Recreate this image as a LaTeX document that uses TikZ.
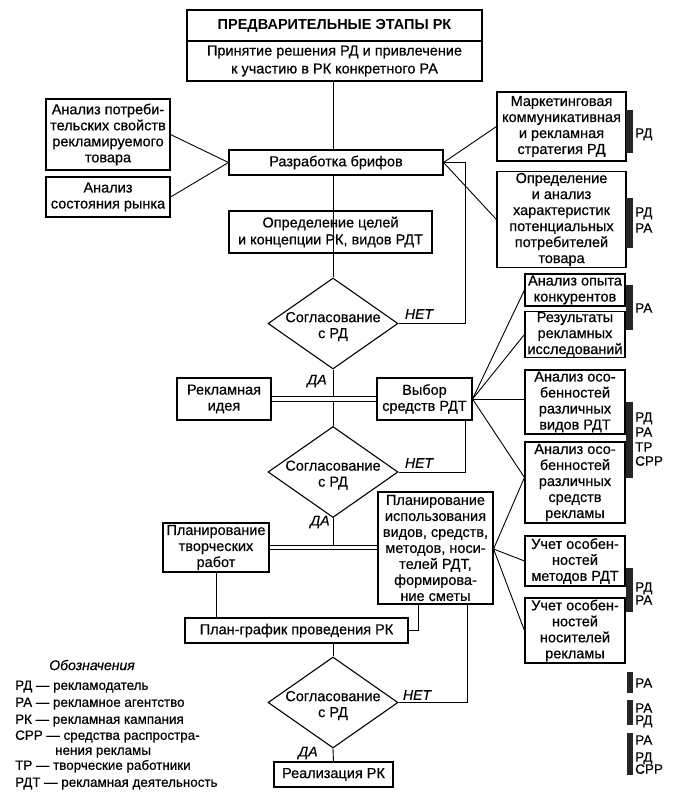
\documentclass[tikz,border=0pt]{standalone}
\usepackage{fontspec}
\setmainfont{Liberation Sans}[UprightFeatures={FakeBold=0.5},ItalicFeatures={FakeBold=0.5}]
\usetikzlibrary{shapes.geometric}
\newcommand\bxf{\fontsize{14.5}{16}\selectfont}
\newcommand\lgf{\fontsize{13.4}{16}\selectfont}
\tikzset{
 box/.style={draw, line width=1.1pt, align=center, inner sep=1pt, font=\bxf},
 dia/.style={draw, line width=1.1pt, diamond, shape aspect=1.43, minimum width=130pt, minimum height=91pt, inner sep=0pt},
 conn/.style={line width=0.9pt},
 dbl/.style={line width=0.9pt, double, double distance=3.6pt},
 yn/.style={font=\fontsize{14}{16}\selectfont\itshape, inner sep=0pt},
 bar/.style={fill=black!85},
 tag/.style={font=\fontsize{13.5}{14}\selectfont, anchor=base west, inner sep=0pt},
 lg/.style={font=\lgf, anchor=base west, inner sep=0pt},
}
\begin{document}
\begin{tikzpicture}[x=1pt,y=-1pt]
\useasboundingbox (0,0) rectangle (679,798);
% boxes
\node[box, minimum width=295pt, minimum height=31pt, font=\bxf\bfseries] (t) at (334.5,25.5) {ПРЕДВАРИТЕЛЬНЫЕ ЭТАПЫ РК};
\node[box, minimum width=295pt, minimum height=40pt, font=\fontsize{14.5}{18}\selectfont] (b0) at (334.5,61) {Принятие решения РД и привлечение\\к участию в РК конкретного РА};
\node[box, minimum width=124pt, minimum height=71pt] (an1) at (108,134.5) {Анализ потреби-\\тельских свойств\\рекламируемого\\товара};
\node[box, minimum width=124pt, minimum height=40pt] (an2) at (108,197) {Анализ\\состояния рынка};
\node[box, minimum width=214pt, minimum height=25pt] (razr) at (336,162.5) {Разработка брифов};
\node[box, minimum width=129pt, minimum height=69pt] (mk) at (561.5,126.5) {Маркетинговая\\коммуникативная\\и рекламная\\стратегия РД};
\node[box, minimum width=129pt, minimum height=95pt] (opr) at (561.5,219.5) {Определение\\и анализ\\характеристик\\потенциальных\\потребителей\\товара};
\node[box, minimum width=203pt, minimum height=42pt, font=\fontsize{14.5}{17}\selectfont] (oc) at (330.5,232) {Определение целей\\и концепции РК, видов РДТ};
\node[box, minimum width=94pt, minimum height=42pt] (ri) at (224,399) {Рекламная\\идея};
\node[box, minimum width=95pt, minimum height=42pt] (vb) at (424.5,399) {Выбор\\средств РДТ};
\node[box, minimum width=106pt, minimum height=49pt] (pt) at (216,547.5) {Планирование\\творческих\\работ};
\node[box, minimum width=115pt, minimum height=112pt] (pi) at (435.5,548) {Планирование\\использования\\видов, средств,\\методов, носи-\\телей РДТ,\\формирова-\\ние сметы};
\node[box, minimum width=223pt, minimum height=25pt] (pg) at (296.5,630.5) {План-график проведения РК};
\node[box, minimum width=119pt, minimum height=25pt] (real) at (333.5,774.5) {Реализация РК};
\node[box, minimum width=100pt, minimum height=32pt] (ao) at (575,290) {Анализ опыта\\конкурентов};
\node[box, minimum width=100pt, minimum height=45pt] (rez) at (575,334.5) {Результаты\\рекламных\\исследований};
\node[box, minimum width=100pt, minimum height=64pt] (av) at (575,402) {Анализ осо-\\бенностей\\различных\\видов РДТ};
\node[box, minimum width=100pt, minimum height=81pt] (as) at (575,482.5) {Анализ осо-\\бенностей\\различных\\средств\\рекламы};
\node[box, minimum width=100pt, minimum height=50pt] (um) at (575,561) {Учет особен-\\ностей\\методов РДТ};
\node[box, minimum width=100pt, minimum height=65pt] (un) at (575,630.5) {Учет особен-\\ностей\\носителей\\рекламы};
% diamonds
\node[dia] (d1) at (333,323.5) {};
\node[dia] (d2) at (333,472) {};
\node[dia] (d3) at (333,702.5) {};
\foreach \d in {d1,d2,d3}{\node[font=\bxf, align=center] at ([yshift=-3pt]\d.center) {Согласование\\с РД};}
% connectors
\draw[conn] (b0.south -| d1.north) -- (razr.north -| d1.north);
\draw[conn] (razr.south -| d1.north) -- (oc.south -| d1.north);
\draw[conn] (oc.south -| d1.north) -- (d1.north);
\draw[conn] (an1.east) -- (razr.west);
\draw[conn] (an2.east) -- (razr.west);
\draw[conn] (razr.east) -- (mk.west);
\draw[conn] (razr.east) -- (opr.west);
\draw[conn] (d1.east) -| ([xshift=22pt]razr.east) -- (razr.east);
\draw[conn] (d1.south) -- (d2.north);
\draw[dbl] (ri.east) -- (vb.west);
\draw[conn] (d2.east) -| ([xshift=-7pt]vb.south east);
\draw[conn] (d2.south) -- (d2.south |- pt.east);
\draw[dbl] (pt.east) -- (pt.east -| pi.west);
\draw[conn] (pt.south) -- (pt.south |- pg.north);
\draw[conn] ([xshift=-17.5pt]pi.south) |- (pg.east);
\draw[conn] (d3.north |- pg.south) -- (d3.north);
\draw[conn] (d3.east) -| ([xshift=31.5pt]pi.south);
\draw[conn] (d3.south) -- (real.north);
\draw[conn] (vb.east) -- (ao.west);
\draw[conn] (vb.east) -- (rez.west);
\draw[conn] (vb.east) -- (vb.east -| av.west);
\draw[conn] (vb.east) -- ([yshift=5pt]as.west);
\draw[conn] ([yshift=-1pt]pi.east) -- ([yshift=5pt]as.west);
\draw[conn] ([yshift=-1pt]pi.east) -- (um.west);
\draw[conn] ([yshift=-1pt]pi.east) -- (un.west);
% yes / no labels
\node[yn] at (419,314) {НЕТ};
\node[yn] at (419,463) {НЕТ};
\node[yn] at (417,695) {НЕТ};
\node[yn] at (317,381) {ДА};
\node[yn] at (320,522) {ДА};
\node[yn] at (308,753) {ДА};
% bars and tags
\fill[bar] (626,110) rectangle (633,153);
\fill[bar] (626,198) rectangle (633,248);
\fill[bar] (626,285) rectangle (633,330);
\fill[bar] (626,402) rectangle (633,478);
\fill[bar] (626,568) rectangle (633,612);
\fill[bar] (627,672) rectangle (633,693);
\fill[bar] (627,700) rectangle (633,725);
\fill[bar] (627,733) rectangle (633,775);
\node[tag] at (635,137.7) {РД};
\node[tag] at (635,216.7) {РД};
\node[tag] at (635,232.7) {РА};
\node[tag] at (635,312.7) {РА};
\node[tag] at (635,421.7) {РД};
\node[tag] at (635,436.7) {РА};
\node[tag] at (635,451.7) {ТР};
\node[tag] at (635,465.7) {СРР};
\node[tag] at (635,591.7) {РД};
\node[tag] at (635,604.7) {РА};
\node[tag] at (635,687.7) {РА};
\node[tag] at (635,712.7) {РА};
\node[tag] at (635,724.7) {РД};
\node[tag] at (635,744.7) {РА};
\node[tag] at (635,761.7) {РД};
\node[tag] at (635,773.7) {СРР};
% legend
\node[font=\fontsize{14}{16}\selectfont\itshape] (lgh) at (92,665) {Обозначения};
\node[lg] (l1) at (15,689.8) {РД — рекламодатель};
\node[lg] (l2) at (15,706.8) {РА — рекламное агентство};
\node[lg] (l3) at (15,723.8) {РК — рекламная кампания};
\node[lg] (l4) at (15,739.8) {СРР — средства распростра-};
\node[lg] (l5) at (55,754.8) {нения рекламы};
\node[lg] (l6) at (15,769.8) {ТР — творческие работники};
\node[lg] (l7) at (15,786.8) {РДТ — рекламная деятельность};
\end{tikzpicture}
\end{document}
